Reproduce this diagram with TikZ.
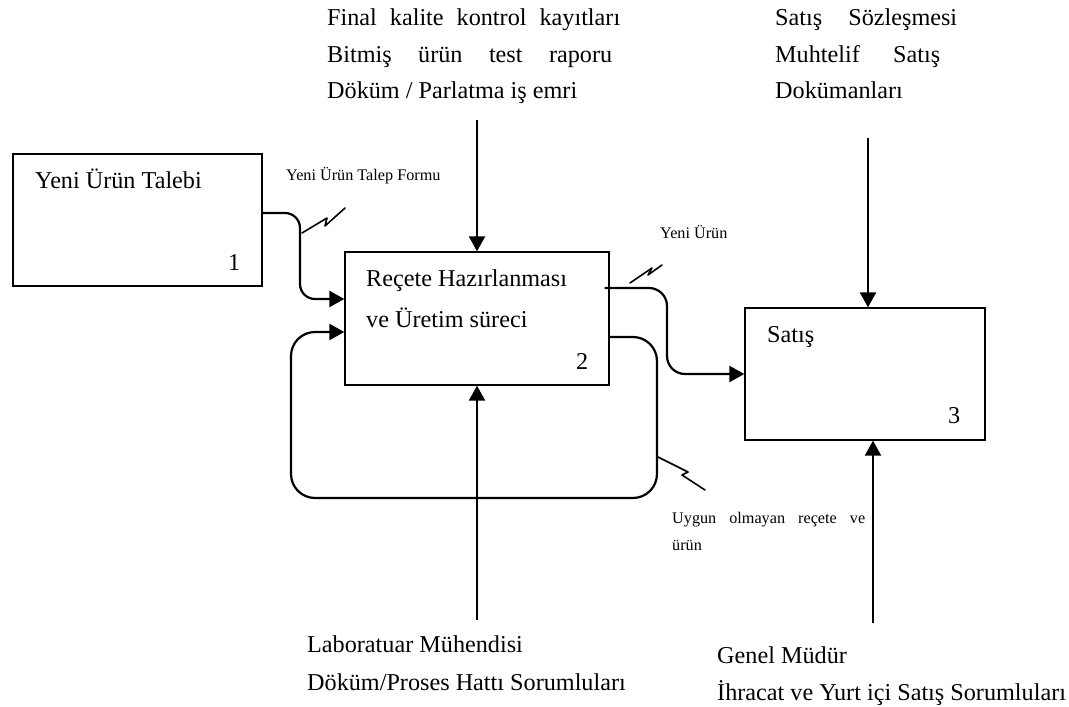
\documentclass[tikz,border=0pt]{standalone}
\usepackage{fontspec}
\setmainfont{Liberation Serif}
\usetikzlibrary{arrows.meta}

\begin{document}
\begin{tikzpicture}[x=1pt,y=-1pt,
  procbox/.style={draw,line width=1.3pt,inner sep=0pt},
  bigtxt/.style={anchor=base west,inner sep=0pt,font=\fontsize{24.2}{28}\selectfont},
  smalltxt/.style={anchor=base west,inner sep=0pt,font=\fontsize{16.2}{19}\selectfont},
  flow/.style={line width=2.2pt,-{Triangle[length=15pt,width=16pt]}},
  bolt/.style={line width=1.6pt,line join=round,line cap=round}]

\useasboundingbox (0,0) rectangle (1069,707);

% process boxes
\node[procbox,minimum width=249pt,minimum height=132pt] (box1) at (137.5,220) {};
\node[procbox,minimum width=264pt,minimum height=133pt] (box2) at (477,318.5) {};
\node[procbox,minimum width=240pt,minimum height=132pt] (box3) at (865,374) {};

% box texts
\node[bigtxt] (t1) at (35,188) {Yeni Ürün Talebi};
\node[bigtxt] (n1) at (228,270) {1};
\node[bigtxt] (t2a) at (366,286) {Reçete Hazırlanması};
\node[bigtxt] (t2b) at (366,327) {ve Üretim süreci};
\node[bigtxt] (n2) at (576,369) {2};
\node[bigtxt] (t3) at (767,342) {Satış};
\node[bigtxt] (n3) at (948,423) {3};

% controls (top)
\node[bigtxt] (c1) at (327,25) {\makebox[293pt][s]{Final kalite kontrol kayıtları}};
\node[bigtxt] (c2) at (327,62) {\makebox[285pt][s]{Bitmiş ürün test raporu}};
\node[bigtxt] (c3) at (327,98) {Döküm / Parlatma iş emri};
\node[bigtxt] (d1) at (775,25) {\makebox[182pt][s]{Satış Sözleşmesi}};
\node[bigtxt] (d2) at (775,62) {\makebox[165pt][s]{Muhtelif Satış}};
\node[bigtxt] (d3) at (775,98) {Dokümanları};

% mechanisms (bottom)
\node[bigtxt] (m1) at (307,652) {Laboratuar Mühendisi};
\node[bigtxt] (m2) at (307,690) {Döküm/Proses Hattı Sorumluları};
\node[bigtxt] (g1) at (717,663) {Genel Müdür};
\node[bigtxt] (g2) at (717,700) {İhracat ve Yurt içi Satış Sorumluları};

% flow labels
\node[smalltxt] (l1) at (286,180) {Yeni Ürün Talep Formu};
\node[smalltxt] (l2) at (660,238) {Yeni Ürün};
\node[smalltxt] (l3) at (672,523) {\makebox[193pt][s]{Uygun olmayan reçete ve}};
\node[smalltxt] (l4) at (672,550) {ürün};

% vertical control / mechanism arrows
\coordinate (in2t) at (477,120);
\coordinate (in2b) at (477,620);
\coordinate (in3t) at (868,138);
\coordinate (in3b) at (873,623);
\draw[flow] (in2t) -- (box2.north);
\draw[flow] (in2b) -- (box2.south);
\draw[flow] (in3t) -- (in3t |- box3.north);
\draw[flow] (in3b) -- (in3b |- box3.south);

% box 1 -> box 2
\coordinate (k1) at (300,213);
\coordinate (k2) at (300,299);
\draw[flow,rounded corners=15pt] ([yshift=7pt]box1.east) -- (k1) -- (k2) -- ([yshift=19.5pt]box2.west);

% box 2 -> box 3
\coordinate (k3) at (667,288);
\coordinate (k4) at (667,374);
\draw[flow,rounded corners=18pt] ([yshift=30.5pt,xshift=-5pt]box2.east) -- (k3) -- (k4) -- (box3.west);

% feedback loop around box 2
\coordinate (r1) at (657,337);
\coordinate (r2) at (657,498);
\coordinate (r3) at (291,498);
\coordinate (r4) at (291,332);
\draw[flow,rounded corners=24pt] ([yshift=-18.5pt]box2.east) -- (r1) -- (r2) -- (r3) -- (r4) -- ([yshift=-13.5pt]box2.west);

% lightning marks tying labels to flows
\draw[bolt] (302,233) -- (327,218) -- (325,226) -- (345,208);
\draw[bolt] (630,283) -- (652,268) -- (648,275) -- (662,265);
\draw[bolt] (658,457) -- (688,472) -- (682,475) -- (705,490);

\end{tikzpicture}
\end{document}
